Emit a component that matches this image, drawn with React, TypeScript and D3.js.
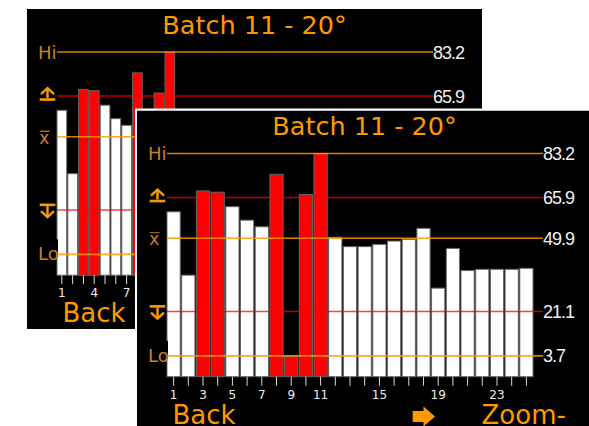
import React from 'react';
import * as d3 from 'd3';

// ---- data ----
const titleText = 'Batch 11 - 20°';
const barValues = [60.3, 35.4, 68.5, 68.0, 62.3, 57.0, 54.4, 75.0, 3.4, 67.1, 83.2, 50.3, 46.6, 46.6, 47.5, 48.8, 49.5, 53.8, 30.3, 45.9, 37.2, 37.7, 37.7, 37.7, 38.1];
const limitKinds = ['hi', 'ucl', 'mean', 'lcl', 'lo'];
const limitValues = [83.2, 65.9, 49.9, 21.1, 3.7];
const limitLabels = ['83.2', '65.9', '49.9', '21.1', '3.7'];
const frontTickLabels = [1, 3, 5, 7, 9, 11, 15, 19, 23];
const backTickLabels = [1, 4, 7, 10, 13, 16, 19, 22, 25, 28, 31, 34];
const backLabel = 'Back';
const zoomLabel = 'Zoom-';

const ORANGE = '#FF9900';
const DIM = '#C98026';
const SW = 455;
const SH = 320;
const FONT = '"DejaVu Sans", Verdana, sans-serif';

type ScreenProps = { id: string; x0: number; y0: number; slots: number; ticks: number[]; border?: boolean };

function Screen({ id, x0, y0, slots, ticks, border }: ScreenProps) {
  const x = d3.scaleBand<number>().domain(d3.range(1, slots + 1)).range([30, 396]).paddingInner(0.1).paddingOuter(0);
  const y = d3.scaleLinear().domain([-4.5, 83.2]).range([266.2, 43]);
  const base = y(-4.5);
  const hi = limitValues[limitKinds.indexOf('hi')];
  const ucl = limitValues[limitKinds.indexOf('ucl')];
  const lcl = limitValues[limitKinds.indexOf('lcl')];
  const lineColor = (k: string) => (k === 'ucl' || k === 'lcl' ? '#FF0000' : ORANGE);
  const lineOpacity = (k: string) => (k === 'ucl' || k === 'lcl' ? 0.75 : 0.85);
  const yu = y(ucl);
  const yl = y(lcl);
  return (
    <g transform={`translate(${x0},${y0})`}>
      {border && <rect x={-2} y={-2} width={SW + 4} height={SH + 4} fill="#fff" />}
      <clipPath id={id}>
        <rect x={0} y={0} width={SW} height={SH} />
      </clipPath>
      <g clipPath={`url(#${id})`}>
        <rect x={0} y={0} width={SW} height={SH} fill="#000" />
        <text x={SW / 2} y={24.5} textAnchor="middle" fontFamily={FONT} fontSize={25.5} fill={ORANGE}>{titleText}</text>
        {barValues.map((v, i) => (
          <rect key={i} x={x(i + 1)!} y={y(v)} width={x.bandwidth()} height={base - y(v)}
            fill={v > ucl || v < lcl ? '#FF0000' : '#FFFFFF'} stroke="#666" strokeWidth={1} />
        ))}
        {limitValues.map((v, i) => (
          <line key={i} x1={30} x2={406} y1={y(v)} y2={y(v)} stroke={lineColor(limitKinds[i])}
            strokeOpacity={lineOpacity(limitKinds[i])} strokeWidth={1.6} />
        ))}
        {limitValues.map((v, i) => (
          <text key={'r' + i} x={406} y={y(v) + 6.5} fontFamily='"Liberation Sans", Arial, sans-serif' fontSize={18}
            letterSpacing={-1} fill="#F0F0F0">{limitLabels[i]}</text>
        ))}
        {/* left symbols */}
        <text x={11} y={y(hi) + 6.5} fontFamily={FONT} fontSize={18} fill={DIM}>Hi</text>
        <g stroke={ORANGE} strokeWidth={2.4} fill="none">
          <path d={`M14,${yu - 2} L20.5,${yu - 8} L27,${yu - 2}`} />
          <path d={`M20.5,${yu - 8} L20.5,${yu + 2}`} />
          <rect x={12.7} y={yu + 2.2} width={15.6} height={2.6} fill={ORANGE} stroke="none" />
          <rect x={12.7} y={yl - 6.5} width={15.6} height={2.6} fill={ORANGE} stroke="none" />
          <path d={`M20.5,${yl - 4} L20.5,${yl + 7}`} />
          <path d={`M14,${yl + 1} L20.5,${yl + 7} L27,${yl + 1}`} />
        </g>
        <line x1={12.7} x2={22.7} y1={y(limitValues[2]) - 5.5} y2={y(limitValues[2]) - 5.5} stroke={DIM} strokeWidth={1.2} />
        <text x={12.2} y={y(limitValues[2]) + 7} fontFamily={FONT} fontSize={17} fill={DIM}>x</text>
        <rect x={9} y={y(limitValues[4]) - 15} width={22} height={18} fill="#000" />
        <text x={11} y={y(limitValues[4]) + 6} fontFamily={FONT} fontSize={18} fill={DIM}>Lo</text>
        {/* ticks */}
        {x.domain().map((d) => (
          <line key={'t' + d} x1={x(d)! + x.bandwidth() / 2} x2={x(d)! + x.bandwidth() / 2} y1={base} y2={base + 9}
            stroke="#DDD" strokeWidth={1} />
        ))}
        {ticks.map((d) => (
          <text key={'l' + d} x={x(d)! + x.bandwidth() / 2} y={288} textAnchor="middle" fontFamily={FONT}
            fontSize={12} fill="#EEE">{d}</text>
        ))}
        <text x={35.5} y={313} fontFamily={FONT} fontSize={26} fill={ORANGE}>{backLabel}</text>
        <path d="M275.7,300.5 L286.5,300.5 L286.5,296 L298,306 L286.5,316 L286.5,311.5 L275.7,311.5 Z" fill={ORANGE} />
        <text x={344.5} y={313} fontFamily={FONT} fontSize={26} fill={ORANGE}>{zoomLabel}</text>
      </g>
    </g>
  );
}

export default function App() {
  return (
    <svg width={589} height={426} style={{ position: 'fixed', left: 0, top: 0, background: '#fff' }}>
      <rect width={589} height={426} fill="#fff" />
      <Screen id="backScreen" x0={27} y0={9} slots={34} ticks={backTickLabels} />
      <Screen id="frontScreen" x0={137} y0={110.5} slots={25} ticks={frontTickLabels} border />
    </svg>
  );
}
